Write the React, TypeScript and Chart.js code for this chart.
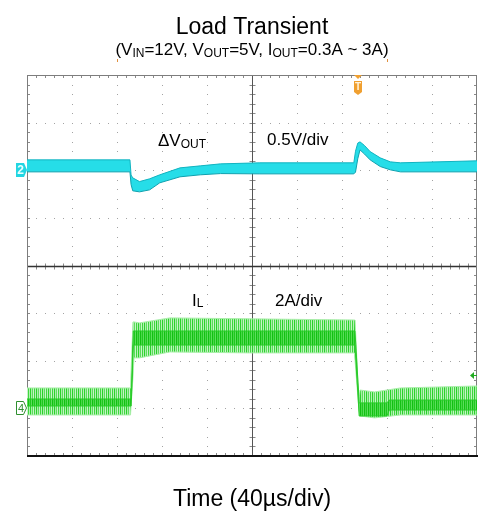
import React, { useEffect, useRef } from "react";
import { Chart, registerables } from "chart.js";

Chart.register(...registerables);

// Horizontal axis: time in µs, 40 µs/div, 10 divisions
const timeTicks = [0, 40, 80, 120, 160, 200, 240, 280, 320, 360, 400];
// CH2 (ΔVOUT) axis: volts, 0.5 V/div, 8 divisions
const voltTicks = [-3, -2.5, -2, -1.5, -1, -0.5, 0, 0.5, 1];
// CH4 (IL) axis: amps, 2 A/div, 8 divisions
const ampTicks = [-2, 0, 2, 4, 6, 8, 10, 12, 14];

// CH2: output voltage deviation envelope (V)
const voutTime = [0, 91.5, 92.5, 94, 100, 109, 118, 136, 154, 172, 207, 290.5, 292, 294, 296, 300, 305, 314, 323, 332, 400];
const voutUpper = [0.109, 0.109, -0.05, -0.08, -0.119, -0.09, -0.048, 0.025, 0.046, 0.067, 0.078, 0.078, 0.2, 0.285, 0.298, 0.26, 0.196, 0.13, 0.088, 0.078, 0.099];
const voutLower = [-0.017, -0.017, -0.15, -0.216, -0.227, -0.206, -0.132, -0.069, -0.048, -0.035, -0.038, -0.038, -0.02, 0.12, 0.214, 0.17, 0.109, 0.039, 0.004, -0.017, -0.017];

// CH4: inductor current ripple envelope (A)
const ilTime = [0, 92.0, 92.4, 94.2, 95.1, 100, 127, 198, 291, 291.6, 295.1, 295.5, 296, 309, 332, 400];
const ilUpper = [0.857, 0.857, 1.4, 3.63, 3.63, 3.59, 3.8, 3.76, 3.71, 3.71, 0.14, 0.5, 0.77, 0.69, 0.857, 0.94];
const ilLower = [-0.277, -0.277, -0.277, 1.32, 2.12, 2.12, 2.37, 2.33, 2.33, 2.0, -0.11, -0.32, -0.32, -0.4, -0.277, -0.277];

// CH4: dense core of the ripple (A)
const ilCoreTime = [0, 92.6, 94.5, 291.5, 295.3, 320, 322, 400];
const ilCoreUpper = [0.395, 0.395, 3.25, 3.25, 0.23, 0.23, 0.35, 0.35];
const ilCoreLower = [0.1, 0.1, 2.66, 2.66, -0.32, -0.32, -0.07, -0.07];

const triggerTime = 294;
const triggerLevelA = 1.4;
const timeMarkers = [80, 320];

const FONT = "'Liberation Sans', Arial, Helvetica, sans-serif";

type Part = { t: string; sub?: boolean };

function drawRich(
  ctx: CanvasRenderingContext2D,
  parts: Part[],
  x: number,
  y: number,
  size: number,
  subSize: number,
  subDrop: number,
  align: "left" | "center",
  color: string
) {
  let w = 0;
  for (const p of parts) {
    ctx.font = `${p.sub ? subSize : size}px ${FONT}`;
    w += ctx.measureText(p.t).width;
  }
  let cx = align === "center" ? x - w / 2 : x;
  ctx.fillStyle = color;
  ctx.textAlign = "left";
  ctx.textBaseline = "alphabetic";
  for (const p of parts) {
    ctx.font = `${p.sub ? subSize : size}px ${FONT}`;
    ctx.fillText(p.t, cx, p.sub ? y + subDrop : y);
    cx += ctx.measureText(p.t).width;
  }
}

const graticulePlugin = {
  id: "graticule",
  beforeDatasetsDraw(chart: any) {
    const { ctx, chartArea: a, scales } = chart;
    const xs = scales.x;
    const ys = scales.y;
    const L = a.left, R = a.right, T = a.top, B = a.bottom;
    const nx = timeTicks.length - 1;
    const ny = voltTicks.length - 1;
    const xMid = timeTicks[nx / 2];
    const yMid = voltTicks[ny / 2];
    const xMinor = (timeTicks[1] - timeTicks[0]) / 5;
    const yMinor = (voltTicks[1] - voltTicks[0]) / 5;
    ctx.save();
    // dotted graticule
    ctx.fillStyle = "#a3a3a3";
    timeTicks.forEach((t, i) => {
      if (i === 0 || i === nx || t === xMid) return;
      const px = Math.round(xs.getPixelForValue(t));
      for (let k = 1; k < ny * 5; k++) {
        const py = Math.round(ys.getPixelForValue(voltTicks[0] + k * yMinor));
        ctx.fillRect(px, py, 1, 1);
      }
    });
    voltTicks.forEach((v, i) => {
      if (i === 0 || i === ny || v === yMid) return;
      const py = Math.round(ys.getPixelForValue(v));
      for (let k = 1; k < nx * 5; k++) {
        const px = Math.round(xs.getPixelForValue(timeTicks[0] + k * xMinor));
        ctx.fillRect(px, py, 1, 1);
      }
    });
    // minor ticks on center lines and borders
    const cx = Math.round(xs.getPixelForValue(xMid)) + 0.5;
    const cy = Math.round(ys.getPixelForValue(yMid)) + 0.5;
    ctx.strokeStyle = "#8a8a8a";
    ctx.lineWidth = 1;
    ctx.beginPath();
    for (let k = 1; k < ny * 5; k++) {
      const py = Math.round(ys.getPixelForValue(voltTicks[0] + k * yMinor)) + 0.5;
      ctx.moveTo(cx - 3, py); ctx.lineTo(cx + 3, py);
      ctx.moveTo(L, py); ctx.lineTo(L + 3, py);
      ctx.moveTo(R - 3, py); ctx.lineTo(R, py);
    }
    for (let k = 1; k < nx * 5; k++) {
      const px = Math.round(xs.getPixelForValue(timeTicks[0] + k * xMinor)) + 0.5;
      ctx.moveTo(px, cy - 3); ctx.lineTo(px, cy + 3);
      ctx.moveTo(px, T); ctx.lineTo(px, T + 3);
      ctx.moveTo(px, B - 3); ctx.lineTo(px, B);
    }
    ctx.stroke();
    // center lines
    ctx.strokeStyle = "#555";
    ctx.lineWidth = 1;
    ctx.beginPath(); ctx.moveTo(cx, T); ctx.lineTo(cx, B); ctx.stroke();
    ctx.strokeStyle = "#333";
    ctx.lineWidth = 1.5;
    ctx.beginPath(); ctx.moveTo(L, cy); ctx.lineTo(R, cy); ctx.stroke();
    // border
    ctx.strokeStyle = "#7d7d7d";
    ctx.lineWidth = 1;
    ctx.strokeRect(L + 0.5, T + 0.5, R - L - 1, B - T - 1);
    ctx.strokeStyle = "#111";
    ctx.lineWidth = 2;
    ctx.beginPath(); ctx.moveTo(L, B); ctx.lineTo(R + 1, B); ctx.stroke();
    ctx.restore();
  },
};

const overlayPlugin = {
  id: "overlay",
  afterDraw(chart: any) {
    const { ctx, chartArea: a, scales } = chart;
    const xs = scales.x;
    const ys = scales.y;
    const y2 = scales.y2;
    const L = a.left, R = a.right, T = a.top;
    const midX = (L + R) / 2;
    ctx.save();

    // Titles
    drawRich(ctx, [{ t: "Load Transient" }], midX, 34, 23, 23, 0, "center", "#000");
    drawRich(
      ctx,
      [
        { t: "(V" }, { t: "IN", sub: true }, { t: "=12V, V" }, { t: "OUT", sub: true },
        { t: "=5V, I" }, { t: "OUT", sub: true }, { t: "=0.3A ~ 3A)" },
      ],
      midX, 55, 17, 12, 2, "center", "#000"
    );
    drawRich(ctx, [{ t: "Time (40µs/div)" }], midX, 506, 23, 23, 0, "center", "#000");

    // In-plot labels
    drawRich(ctx, [{ t: "ΔV" }, { t: "OUT", sub: true }], 158, 146, 17, 12, 1.5, "left", "#000");
    drawRich(ctx, [{ t: "0.5V/div" }], 267, 145, 17, 17, 0, "left", "#000");
    drawRich(ctx, [{ t: "I" }, { t: "L", sub: true }], 192, 306, 17, 12, 1, "left", "#000");
    drawRich(ctx, [{ t: "2A/div" }], 275, 306, 17, 17, 0, "left", "#000");

    // CH2 marker (cyan tag)
    const c2 = Math.round(ys.getPixelForValue(0));
    ctx.fillStyle = "#22d6e2";
    ctx.beginPath();
    ctx.moveTo(16, c2 - 7);
    ctx.lineTo(24, c2 - 7);
    ctx.lineTo(27, c2);
    ctx.lineTo(24, c2 + 7);
    ctx.lineTo(16, c2 + 7);
    ctx.closePath();
    ctx.fill();
    ctx.fillStyle = "#e8ffff";
    ctx.font = `bold 12px ${FONT}`;
    ctx.textAlign = "center";
    ctx.textBaseline = "middle";
    ctx.fillText("2", 20.5, c2 + 1);

    // CH4 marker (green outlined tag)
    const c4 = Math.round(y2.getPixelForValue(0));
    ctx.fillStyle = "#ffffff";
    ctx.strokeStyle = "#2f8f2f";
    ctx.lineWidth = 1;
    ctx.beginPath();
    ctx.moveTo(16.5, c4 - 6.5);
    ctx.lineTo(23.5, c4 - 6.5);
    ctx.lineTo(26.5, c4);
    ctx.lineTo(23.5, c4 + 6.5);
    ctx.lineTo(16.5, c4 + 6.5);
    ctx.closePath();
    ctx.fill();
    ctx.stroke();
    ctx.fillStyle = "#2f8f2f";
    ctx.font = `11px ${FONT}`;
    ctx.fillText("4", 21, c4 + 1);

    // Trigger position marker
    const tx = Math.round(xs.getPixelForValue(triggerTime));
    ctx.fillStyle = "#f0a030";
    ctx.beginPath();
    ctx.moveTo(tx - 4, T);
    ctx.lineTo(tx + 4, T);
    ctx.lineTo(tx, T + 4);
    ctx.closePath();
    ctx.fill();
    ctx.beginPath();
    ctx.moveTo(tx - 4, T + 6);
    ctx.lineTo(tx + 4, T + 6);
    ctx.lineTo(tx + 4, T + 17);
    ctx.lineTo(tx, T + 20);
    ctx.lineTo(tx - 4, T + 17);
    ctx.closePath();
    ctx.fill();
    ctx.fillStyle = "#fff3dd";
    ctx.font = `bold 10px ${FONT}`;
    ctx.fillText("T", tx, T + 12);

    // small horizontal-position marks above graticule
    ctx.fillStyle = "#e09040";
    timeMarkers.forEach((t) => {
      const px = Math.round(xs.getPixelForValue(t));
      ctx.fillRect(px, T - 16, 1, 3);
    });

    // trigger level arrow (CH4)
    const ty = Math.round(y2.getPixelForValue(triggerLevelA)) + 0.5;
    ctx.fillStyle = "#22aa22";
    ctx.strokeStyle = "#22aa22";
    ctx.beginPath();
    ctx.moveTo(R - 7, ty);
    ctx.lineTo(R - 3, ty - 3.5);
    ctx.lineTo(R - 3, ty + 3.5);
    ctx.closePath();
    ctx.fill();
    ctx.beginPath();
    ctx.moveTo(R - 3, ty);
    ctx.lineTo(R, ty);
    ctx.stroke();

    ctx.restore();
  },
};

function makeStripePattern(ctx: CanvasRenderingContext2D, cols: string[]) {
  const c = document.createElement("canvas");
  c.width = cols.length;
  c.height = 1;
  const g = c.getContext("2d") as CanvasRenderingContext2D;
  cols.forEach((col, i) => {
    g.fillStyle = col;
    g.fillRect(i, 0, 1, 1);
  });
  return ctx.createPattern(c, "repeat") as CanvasPattern;
}

const pts = (xsArr: number[], ysArr: number[]) => xsArr.map((x, i) => ({ x, y: ysArr[i] }));

export default function App() {
  const ref = useRef<HTMLCanvasElement | null>(null);

  useEffect(() => {
    document.body.style.margin = "0";
    const canvas = ref.current;
    if (!canvas) return;
    const ctx = canvas.getContext("2d") as CanvasRenderingContext2D;
    const ripple = makeStripePattern(ctx, ["#2ad22a", "#a9eea9", "#5cdc5c", "#c6f4c6", "#3fd63f", "#b4f0b4"]);
    const core = makeStripePattern(ctx, ["#12c012", "#48d848", "#1fc71f", "#5cdd5c"]);

    // Chart.js paints the last dataset first, so the dense core (first) ends on top.
    const chart = new Chart(canvas, {
      type: "line",
      data: {
        datasets: [
          {
            label: "IL core max",
            data: pts(ilCoreTime, ilCoreUpper),
            yAxisID: "y2",
            borderColor: "#2acb2a",
            borderWidth: 1,
            fill: false,
          },
          {
            label: "IL core min",
            data: pts(ilCoreTime, ilCoreLower),
            yAxisID: "y2",
            borderColor: "#2acb2a",
            borderWidth: 1,
            fill: "-1",
            backgroundColor: core,
          },
          {
            label: "IL max",
            data: pts(ilTime, ilUpper),
            yAxisID: "y2",
            borderColor: "#aaeeaa",
            borderWidth: 1,
            fill: false,
          },
          {
            label: "IL min",
            data: pts(ilTime, ilLower),
            yAxisID: "y2",
            borderColor: "#aaeeaa",
            borderWidth: 1,
            fill: "-1",
            backgroundColor: ripple,
          },
          {
            label: "ΔVOUT max",
            data: pts(voutTime, voutUpper),
            yAxisID: "y",
            borderColor: "#12b3c0",
            borderWidth: 1,
            fill: false,
          },
          {
            label: "ΔVOUT min",
            data: pts(voutTime, voutLower),
            yAxisID: "y",
            borderColor: "#0ea0ae",
            borderWidth: 1,
            fill: "-1",
            backgroundColor: "#26dde8",
          },
        ],
      },
      options: {
        animation: false,
        responsive: false,
        maintainAspectRatio: false,
        layout: { padding: { left: 27, top: 75, right: 17, bottom: 59 } },
        elements: { point: { radius: 0 }, line: { tension: 0 } },
        plugins: {
          legend: { display: false },
          tooltip: { enabled: false },
          title: { display: false },
        },
        scales: {
          x: { type: "linear", min: timeTicks[0], max: timeTicks[timeTicks.length - 1], display: false },
          y: { type: "linear", min: voltTicks[0], max: voltTicks[voltTicks.length - 1], display: false },
          y2: { type: "linear", min: ampTicks[0], max: ampTicks[ampTicks.length - 1], display: false },
        },
      },
      plugins: [graticulePlugin, overlayPlugin],
    } as any);

    return () => chart.destroy();
  }, []);

  return (
    <div style={{ width: 494, height: 515, background: "#fff" }}>
      <canvas ref={ref} width={494} height={515} style={{ display: "block" }} />
    </div>
  );
}
